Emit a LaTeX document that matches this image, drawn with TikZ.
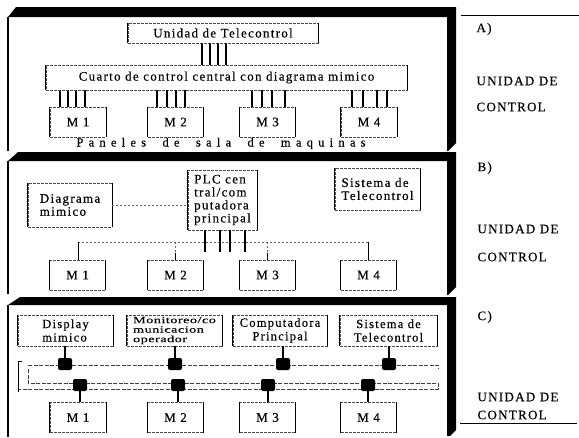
\documentclass[tikz,border=0pt]{standalone}
\usepackage{fontspec}
\setmainfont{Liberation Serif}
\newfontfamily\labfont[LetterSpace=10,FakeBold=0.4]{Liberation Serif}
\newfontfamily\widefont[LetterSpace=42,FakeBold=0.4]{Liberation Serif}
\newfontfamily\narrowfont[FakeStretch=1.5,LetterSpace=5,FakeBold=0.3]{Liberation Serif}
\usetikzlibrary{calc}

\begin{document}
\begin{tikzpicture}[x=1pt, y=-1pt,
  every node/.style={font=\labfont\fontsize{13}{13}\selectfont},
  sidev/.style={draw=black, solid, line width=1.3pt},
  unit/.style={inner sep=0pt, align=center, draw=black!70,
    dash pattern=on 3pt off 1pt, line width=0.5pt,
    append after command={
      (\tikzlastnode.north west) edge[sidev] (\tikzlastnode.south west)
      (\tikzlastnode.north east) edge[sidev] (\tikzlastnode.south east)}},
  mach/.style={unit, minimum width=56pt, minimum height=30pt},
  wire/.style={draw=black, line width=1.1pt},
  thinwire/.style={draw=black, line width=0.8pt},
  faint/.style={draw=black!60, line width=0.6pt, dash pattern=on 2pt off 2pt},
  bus/.style={draw=black!75, line width=0.7pt, dash pattern=on 4pt off 1.5pt},
  tap/.style={fill=black, rounded corners=2pt, minimum width=14pt,
    minimum height=12pt, inner sep=0pt},
  shade/.style={fill=black},
  edge line/.style={draw=black, line width=1.6pt},
  side/.style={anchor=west, font=\labfont\fontsize{13}{13}\selectfont}]

\useasboundingbox (0,0) rectangle (579,437);

% ---------- panel frames: heavy top and right edges, thin left edge ----------
\fill[shade] (8,17) -- (16,7) -- (456,7) -- (456,143) -- (448,151) -- (447,151) -- (447,17) -- cycle;
\draw[edge line] (8,17) -- (8,151);
\fill[shade] (8,161) -- (18,152) -- (456,152) -- (456,287) -- (448,295) -- (447,295) -- (447,161) -- cycle;
\draw[edge line] (8,161) -- (8,294);
\fill[shade] (8,305) -- (20,297) -- (456,297) -- (456,430) -- (450,436) -- (447,436) -- (447,305) -- cycle;
\draw[edge line] (8,305) -- (8,437);

% ---------- right-hand captions ----------
\draw[line width=0.7pt] (461,15) -- (579,15);
\node[side] (capA) at (473,29) {A)};
\node[side] (unA)  at (473,81) {UNIDAD DE};
\node[side] (coA)  at (473,107) {CONTROL};
\node[side] (capB) at (474,168) {B)};
\node[side] (unB)  at (474,229) {UNIDAD DE};
\node[side] (coB)  at (474,257) {CONTROL};
\node[side] (capC) at (474,317) {C)};
\node[side] (unC)  at (474,397) {UNIDAD DE};
\node[side] (coC)  at (474,415) {CONTROL};
\draw[line width=0.7pt] (460,423) -- (577,423);

% ================= A) =================
\node[unit, minimum width=190pt, minimum height=20pt] (tele) at (223,33) {Unidad de Telecontrol};
\node[unit, minimum width=361pt, minimum height=25pt] (room) at (226.5,77.5) {Cuarto de control central con diagrama mimico};
\foreach \x in {202,210,218,226} \draw[wire] (\x,0 |- tele.south) -- (\x,0 |- room.north);

\node[mach] (a1) at (78,122) {M 1};
\node[mach] (a2) at (175.5,122) {M 2};
\node[mach] (a3) at (267.5,122) {M 3};
\node[mach] (a4) at (369,122) {M 4};
\foreach \x in {60,68,76,85}     \draw[wire] (\x,0 |- room.south) -- (\x,0 |- a1.north);
\foreach \x in {157,167,176,185} \draw[wire] (\x,0 |- room.south) -- (\x,0 |- a2.north);
\foreach \x in {252,262,272,285} \draw[wire] (\x,0 |- room.south) -- (\x,0 |- a3.north);
\foreach \x in {352,363,377,387} \draw[wire] (\x,0 |- room.south) -- (\x,0 |- a4.north);
\node[font=\widefont\fontsize{12.5}{12.5}\selectfont] (pan) at (221,143.5)
  {Paneles\hspace{8pt} de\hspace{8pt} sala\hspace{8pt} de\hspace{8pt} maquinas};

% ================= B) =================
\node[unit, align=left, minimum width=84pt, minimum height=44pt] (diag) at (70,205) {Diagrama\\mimico};
\node[unit, align=left, minimum width=69pt, minimum height=60pt] (plc) at (222.5,200) {PLC cen\\tral/com\\putadora\\principal};
\node[unit, align=left, minimum width=85pt, minimum height=42pt] (tsys) at (377.5,189) {Sistema de\\Telecontrol};
\draw[faint] (diag.east) -- (diag.east -| plc.west);

\node[mach] (b1) at (77.5,275) {M 1};
\node[mach] (b2) at (175.5,275) {M 2};
\node[mach] (b3) at (267.5,275) {M 3};
\node[mach] (b4) at (368.5,275) {M 4};
\coordinate (busB) at (78,242);
\draw[faint] (busB) -- (busB -| b4.north);
\foreach \x in {205,220,230,245} \draw[wire] (\x,0 |- plc.south) -- (\x,252);
\draw[thinwire] (busB) -- (busB |- b1.north);
\draw[thinwire] (busB -| b4.north) -- (b4.north);
\draw[faint] (busB -| b2.north) -- (b2.north);
\draw[faint] (busB -| b3.north) -- (b3.north);
\draw[thinwire] ($(b2.north)+(0,-7)$) -- (b2.north);
\draw[thinwire] ($(b3.north)+(0,-7)$) -- (b3.north);

% ================= C) =================
\node[unit, align=left, minimum width=95pt, minimum height=31pt, font=\labfont\fontsize{12.5}{13.5}\selectfont] (disp) at (65.5,330.5) {Display\\mimico};
\node[unit, align=left, minimum width=95pt, minimum height=31pt, font=\narrowfont\fontsize{9.5}{9.5}\selectfont] (mon) at (174.5,330.5) {Monitoreo/co\\municacion\\operador};
\node[unit, minimum width=94pt, minimum height=31pt, font=\labfont\fontsize{12.5}{13.5}\selectfont] (comp) at (280,330.5) {Computadora\\Principal};
\node[unit, minimum width=97pt, minimum height=31pt, font=\labfont\fontsize{12.5}{13.5}\selectfont] (tsys2) at (388.5,330.5) {Sistema de\\Telecontrol};

\node[mach] (c1) at (78,417.5) {M 1};
\node[mach] (c2) at (175.5,417.5) {M 2};
\node[mach] (c3) at (267.5,417.5) {M 3};
\node[mach] (c4) at (368.5,417.5) {M 4};

% ring lines linking the stations
\draw[bus] (28,365) -- (438,365) -- (438,369);
\draw[bus] (28,369) -- (28,383) -- (438,383) -- (438,389) -- (18,389);
\draw[line width=0.8pt] (22,361) -- (18,361) -- (18,392);

\node[tap] (t1) at (65,364) {};
\node[tap] (t2) at (175,364) {};
\node[tap] (t3) at (283,364) {};
\node[tap] (t4) at (389,364) {};
\node[tap] (s1) at (80,385) {};
\node[tap] (s2) at (178,385) {};
\node[tap] (s3) at (268,385) {};
\node[tap] (s4) at (368,385) {};

\draw[wire] (t1.north |- disp.south) -- (t1.north);
\draw[wire] (t2.north |- mon.south) -- (t2.north);
\draw[wire] (t3.north |- comp.south) -- (t3.north);
\draw[wire] (t4.north |- tsys2.south) -- (t4.north);
\draw[wire] (s1.south) -- (s1.south |- c1.north);
\draw[wire] (s2.south) -- (s2.south |- c2.north);
\draw[wire] (s3.south) -- (s3.south |- c3.north);
\draw[wire] (s4.south) -- (s4.south |- c4.north);
\end{tikzpicture}
\end{document}
